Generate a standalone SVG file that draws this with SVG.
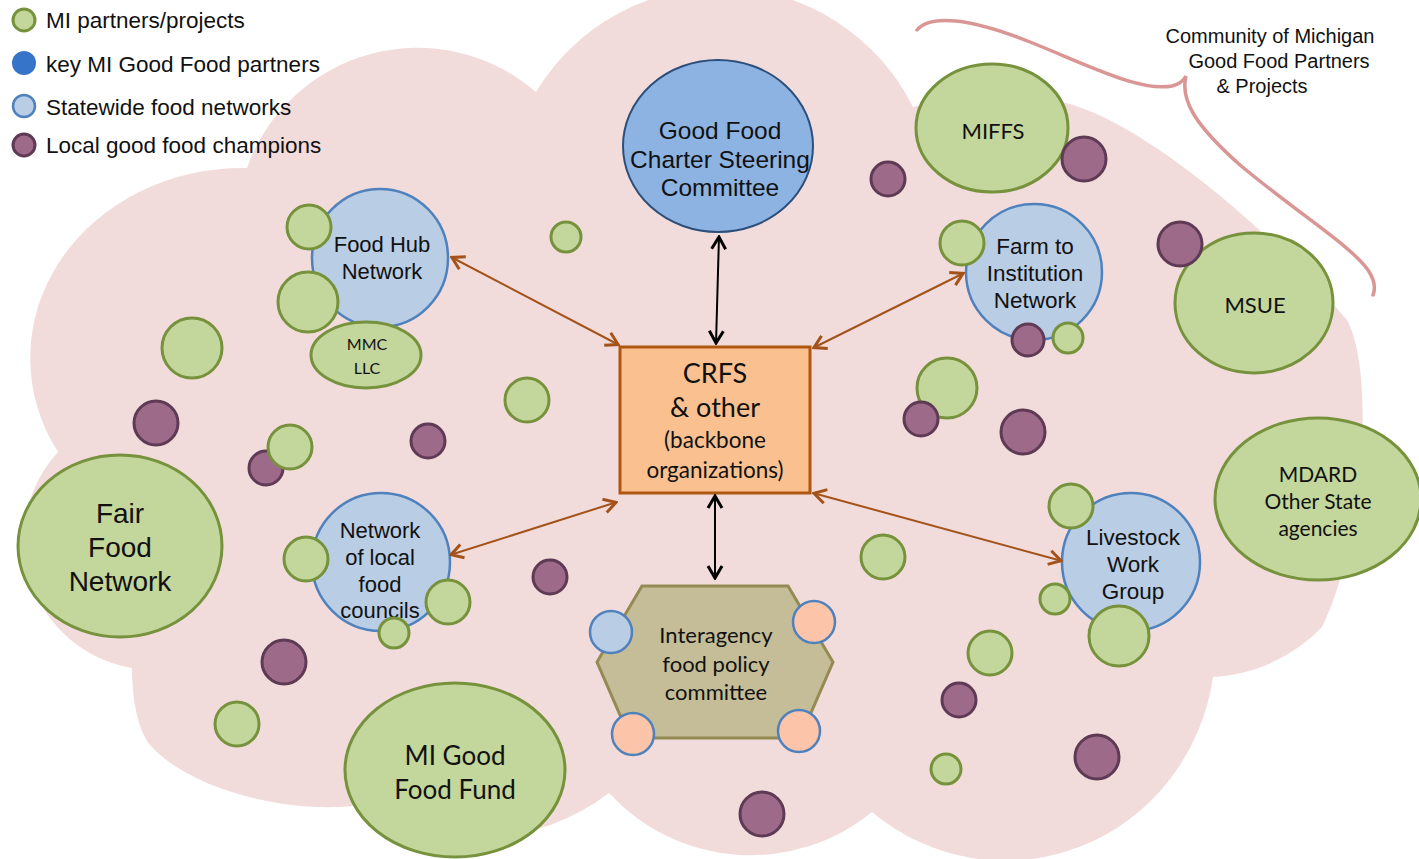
<svg xmlns="http://www.w3.org/2000/svg" width="1419" height="859" viewBox="0 0 1419 859">
<defs>
<style>
.arial{font-family:"Liberation Sans",Arial,sans-serif;fill:#111}
.cal{font-family:Lato,"Liberation Sans",sans-serif;fill:#111}
.g{fill:#c3d69b;stroke:#76923c;stroke-width:3}
.p{fill:#9e6a8a;stroke:#5e3a55;stroke-width:3}
.b{fill:#b9cde5;stroke:#4f81bd;stroke-width:2.5}
.pe{fill:#fcc5a9;stroke:#4f81bd;stroke-width:2.5}
.brown{stroke:#a3531a;stroke-width:2;fill:none}
.blk{stroke:#000;stroke-width:2;fill:none}
</style>
<marker id="ab" viewBox="0 0 16 18" refX="15" refY="9" markerWidth="16" markerHeight="18" markerUnits="userSpaceOnUse" orient="auto-start-reverse">
<path d="M2,2 L14,9 L2,16" fill="none" stroke="#a3531a" stroke-width="3"/>
</marker>
<marker id="ak" viewBox="0 0 16 18" refX="15" refY="9" markerWidth="16" markerHeight="18" markerUnits="userSpaceOnUse" orient="auto-start-reverse">
<path d="M2,2 L14,9 L2,16" fill="none" stroke="#000" stroke-width="3"/>
</marker>
</defs>
<rect width="1419" height="859" fill="#fff"/>
<path id="cloud" fill="#f2dcdb" d="M536,92 A215,215 0 0 1 913,107 C970,92 1020,95 1066,103 C1150,125 1280,240 1347,320 C1375,370 1365,540 1322,627 C1290,660 1250,675 1213,677 A210,215 0 0 1 872,812 A192,192 0 0 1 609,793 A220,220 0 0 1 360,805 C290,815 190,790 150,745 C138,730 132,700 132,668 A130,130 0 0 1 58,452 A212,190 0 0 1 247,168 A181,181 0 0 1 536,92 Z"/>
<path id="brace" d="M917,30 C930,14 970,18 1030,42 C1090,66 1140,92 1172,86 C1180,84 1184,80 1186,76 C1180,100 1195,125 1240,165 C1300,215 1350,245 1368,270 C1376,282 1375,290 1373,295" fill="none" stroke="#d99694" stroke-width="3.5" stroke-linecap="round"/>
<g id="community-label" class="arial" font-size="20" text-anchor="middle">
<text x="1270" y="43">Community of Michigan</text>
<text x="1279" y="68">Good Food Partners</text>
<text x="1262" y="93">&amp; Projects</text>
</g>
<g id="legend" class="arial" font-size="22.5">
<circle cx="24" cy="20" r="11" class="g"/>
<text x="46" y="28">MI partners/projects</text>
<circle cx="24" cy="63" r="12" fill="#3574c8"/>
<text x="46" y="72">key MI Good Food partners</text>
<circle cx="24" cy="106" r="11" class="b"/>
<text x="46" y="115">Statewide food networks</text>
<circle cx="24" cy="145" r="11" class="p"/>
<text x="46" y="153">Local good food champions</text>
</g>
<g id="good-food-charter">
<ellipse cx="718" cy="146" rx="95" ry="86" fill="#8db3e2" stroke="#2b4e7a" stroke-width="2"/>
<g class="arial" font-size="24.5" text-anchor="middle">
<text x="720" y="139">Good Food</text>
<text x="720" y="168">Charter Steering</text>
<text x="720" y="196">Committee</text>
</g>
</g>
<g id="food-hub-network">
<ellipse cx="380" cy="258" rx="68" ry="69" class="b"/>
<g class="arial" font-size="22" text-anchor="middle"><text x="382" y="252">Food Hub</text><text x="382" y="279">Network</text></g>
</g>
<g id="farm-to-institution">
<circle cx="1034" cy="272" r="68" class="b"/>
<g class="arial" font-size="22.5" text-anchor="middle"><text x="1035" y="254">Farm to</text><text x="1035" y="281">Institution</text><text x="1035" y="308">Network</text></g>
</g>
<g id="local-food-councils">
<ellipse cx="381" cy="562" rx="69" ry="69" class="b"/>
<g class="arial" font-size="22" text-anchor="middle"><text x="380" y="538">Network</text><text x="380" y="565">of local</text><text x="380" y="592">food</text><text x="380" y="618">councils</text></g>
</g>
<g id="livestock">
<circle cx="1131" cy="562" r="69" class="b"/>
<g class="arial" font-size="22.5" text-anchor="middle"><text x="1133" y="545">Livestock</text><text x="1133" y="572">Work</text><text x="1133" y="599">Group</text></g>
</g>
<g id="small-green">
<circle cx="309" cy="227" r="22" class="g"/>
<circle cx="308" cy="302" r="30" class="g"/>
<circle cx="192" cy="348" r="30" class="g"/>
<circle cx="566" cy="237" r="15" class="g"/>
<circle cx="527" cy="400" r="22" class="g"/>
<circle cx="306" cy="559" r="22" class="g"/>
<circle cx="448" cy="602" r="22" class="g"/>
<circle cx="394" cy="633" r="15" class="g"/>
<circle cx="237" cy="724" r="22" class="g"/>
<circle cx="962" cy="243" r="22" class="g"/>
<circle cx="1068" cy="338" r="15" class="g"/>
<circle cx="947" cy="388" r="30" class="g"/>
<circle cx="883" cy="557" r="22" class="g"/>
<circle cx="1071" cy="506" r="22" class="g"/>
<circle cx="1055" cy="599" r="15" class="g"/>
<circle cx="1119" cy="636" r="30" class="g"/>
<circle cx="990" cy="653" r="22" class="g"/>
<circle cx="946" cy="769" r="15" class="g"/>
</g>
<g id="small-purple">
<circle cx="156" cy="423" r="22" class="p"/>
<circle cx="266" cy="468" r="17" class="p"/>
<circle cx="428" cy="441" r="17" class="p"/>
<circle cx="284" cy="662" r="22" class="p"/>
<circle cx="550" cy="577" r="17" class="p"/>
<circle cx="762" cy="814" r="22" class="p"/>
<circle cx="888" cy="179" r="17" class="p"/>
<circle cx="921" cy="419" r="17" class="p"/>
<circle cx="959" cy="700" r="17" class="p"/>
<circle cx="1023" cy="432" r="22" class="p"/>
<circle cx="1028" cy="340" r="16" class="p"/>
<circle cx="1097" cy="757" r="22" class="p"/>
</g>
<circle cx="290" cy="447" r="22" class="g"/>
<g id="mmc-llc">
<ellipse cx="366" cy="355" rx="55" ry="33" class="g"/>
<g class="cal" font-size="16" text-anchor="middle"><text x="367" y="350">MMC</text><text x="367" y="374">LLC</text></g>
</g>
<g id="miffs">
<ellipse cx="992" cy="128" rx="76" ry="64" class="g"/>
<text x="993" y="139" class="cal" font-size="22" text-anchor="middle">MIFFS</text>
</g>
<circle cx="1084" cy="159" r="22" class="p"/>
<g id="msue">
<ellipse cx="1254" cy="303" rx="79" ry="70" class="g"/>
<text x="1255" y="313" class="cal" font-size="22" text-anchor="middle">MSUE</text>
</g>
<circle cx="1180" cy="244" r="22" class="p"/>
<g id="mdard">
<ellipse cx="1318" cy="499" rx="103" ry="81" class="g"/>
<g class="cal" font-size="21" text-anchor="middle"><text x="1318" y="482">MDARD</text><text x="1318" y="509">Other State</text><text x="1318" y="536">agencies</text></g>
</g>
<g id="fair-food-network">
<ellipse cx="120" cy="546" rx="102" ry="91" class="g"/>
<g class="arial" font-size="28" text-anchor="middle"><text x="120" y="523">Fair</text><text x="120" y="557">Food</text><text x="120" y="591">Network</text></g>
</g>
<g id="mi-good-food-fund">
<ellipse cx="455" cy="770" rx="110" ry="87" class="g"/>
<g class="cal" font-size="26" text-anchor="middle"><text x="455" y="765">MI Good</text><text x="455" y="799">Food Fund</text></g>
</g>
<g id="crfs">
<rect x="620" y="347" width="190" height="146" fill="#fac090" stroke="#b0570f" stroke-width="3"/>
<g class="cal" text-anchor="middle"><text x="715" y="383" font-size="27">CRFS</text><text x="715" y="417" font-size="27">&amp; other</text><text x="715" y="448" font-size="22.5">(backbone</text><text x="715" y="478" font-size="22.5">organizations)</text></g>
</g>
<g id="interagency">
<polygon points="642,586 788,586 833,662 800,738 630,738 597,662" fill="#c4bd97" stroke="#948a54" stroke-width="3"/>
<circle cx="611" cy="632" r="21" class="b"/>
<circle cx="814" cy="622" r="21" class="pe"/>
<circle cx="633" cy="734" r="21" class="pe"/>
<circle cx="799" cy="731" r="21" class="pe"/>
<g class="cal" font-size="22" text-anchor="middle"><text x="716" y="643">Interagency</text><text x="716" y="672">food policy</text><text x="716" y="700">committee</text></g>
</g>
<g id="connectors">
<line x1="719" y1="236" x2="716" y2="344" class="blk" marker-start="url(#ak)" marker-end="url(#ak)"/>
<line x1="715" y1="495" x2="715" y2="579" class="blk" marker-start="url(#ak)" marker-end="url(#ak)"/>
<line x1="451" y1="257" x2="619" y2="345" class="brown" marker-start="url(#ab)" marker-end="url(#ab)"/>
<line x1="813" y1="348" x2="964" y2="273" class="brown" marker-start="url(#ab)" marker-end="url(#ab)"/>
<line x1="450" y1="555" x2="617" y2="502" class="brown" marker-start="url(#ab)" marker-end="url(#ab)"/>
<line x1="813" y1="493" x2="1062" y2="561" class="brown" marker-start="url(#ab)" marker-end="url(#ab)"/>
</g>
</svg>
